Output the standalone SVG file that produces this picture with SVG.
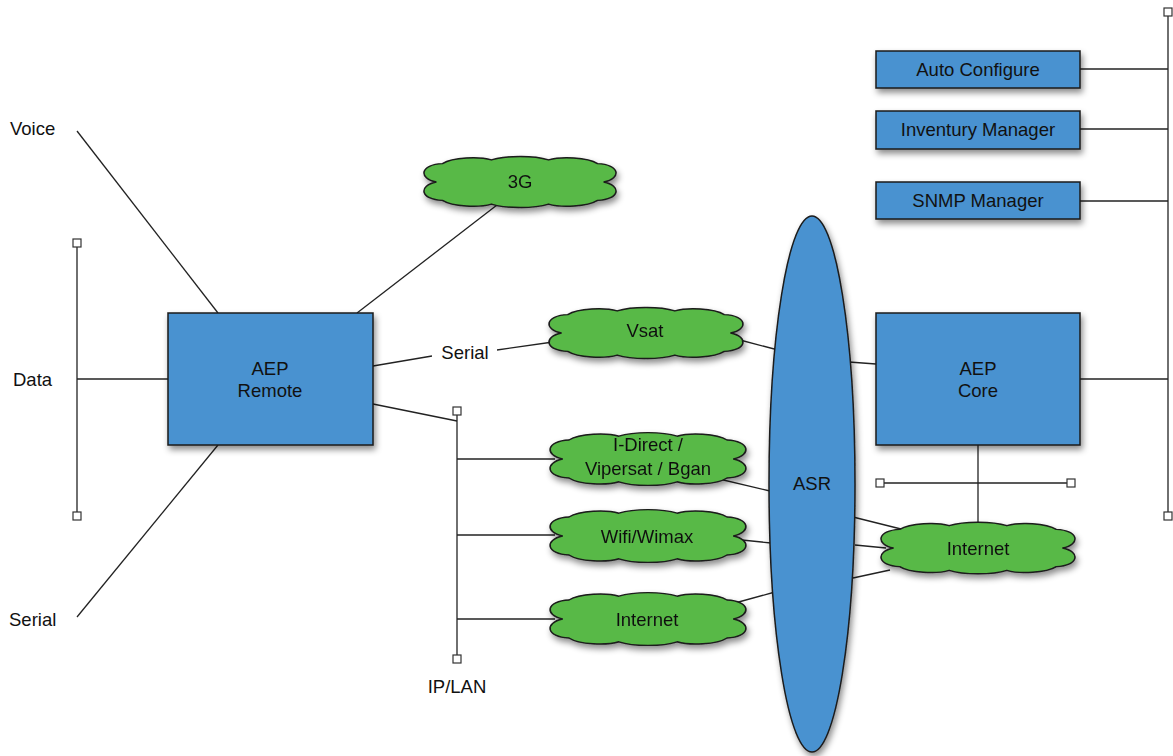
<svg xmlns="http://www.w3.org/2000/svg" width="1173" height="756" viewBox="0 0 1173 756">
<defs>
<filter id="sh" x="-20%" y="-20%" width="140%" height="150%">
<feDropShadow dx="2" dy="4" stdDeviation="3" flood-color="#000" flood-opacity="0.45"/>
</filter>
<path id="cloud" d="M -82,0 C -100,-4 -98,-19 -76,-20 C -66,-27 -40,-28 -28,-24 C -14,-29 14,-29 28,-24 C 40,-28 66,-27 76,-20 C 98,-19 100,-4 82,0 C 100,4 98,19 76,20 C 66,27 40,28 28,24 C 14,29 -14,29 -28,24 C -40,28 -66,27 -76,20 C -98,19 -100,4 -82,0 Z"/>
<style>
.box{fill:#4A92D0;stroke:#1a1a1a;stroke-width:1.5;filter:url(#sh)}
.cl use{fill:#58B947;stroke:#1a1a1a;stroke-width:1.5;vector-effect:non-scaling-stroke}
.cl{filter:url(#sh)}
.ln{stroke:#222;stroke-width:1.3;fill:none}
.sq{fill:#fff;stroke:#333;stroke-width:1.2}
text{font-family:"Liberation Sans",Arial,sans-serif;font-size:18.5px;fill:#111}
.c{text-anchor:middle}
</style>
</defs>
<rect width="1173" height="756" fill="#fff"/>
<g id="connectors">
<line class="ln" x1="77" y1="243" x2="77" y2="516"/>
<line class="ln" x1="77" y1="379" x2="168" y2="379"/>
<line class="ln" x1="77" y1="131" x2="218" y2="313"/>
<line class="ln" x1="77" y1="617" x2="218" y2="445"/>
<line class="ln" x1="357" y1="313" x2="497" y2="205"/>
<line class="ln" x1="373" y1="366" x2="432" y2="356"/>
<line class="ln" x1="497" y1="350" x2="553" y2="342"/>
<line class="ln" x1="457" y1="411" x2="457" y2="659"/>
<line class="ln" x1="373" y1="404" x2="457" y2="421"/>
<line class="ln" x1="457" y1="459" x2="555" y2="459"/>
<line class="ln" x1="457" y1="535" x2="555" y2="535"/>
<line class="ln" x1="457" y1="619" x2="555" y2="619"/>
<line class="ln" x1="740" y1="340" x2="778" y2="350"/>
<line class="ln" x1="849" y1="362" x2="876" y2="364"/>
<line class="ln" x1="715" y1="478" x2="770" y2="491"/>
<line class="ln" x1="742" y1="540" x2="771" y2="543"/>
<line class="ln" x1="735" y1="603" x2="775" y2="592"/>
<line class="ln" x1="853" y1="517" x2="905" y2="530"/>
<line class="ln" x1="855" y1="545" x2="886" y2="548"/>
<line class="ln" x1="853" y1="578" x2="890" y2="570"/>
<line class="ln" x1="978" y1="445" x2="978" y2="523"/>
<line class="ln" x1="880" y1="483" x2="1071" y2="483"/>
<line class="ln" x1="1168" y1="12" x2="1168" y2="516"/>
<line class="ln" x1="1080" y1="69" x2="1168" y2="69"/>
<line class="ln" x1="1080" y1="129" x2="1168" y2="129"/>
<line class="ln" x1="1080" y1="201" x2="1168" y2="201"/>
<line class="ln" x1="1080" y1="379" x2="1168" y2="379"/>
<rect class="sq" x="73" y="239" width="8" height="8"/>
<rect class="sq" x="73" y="512" width="8" height="8"/>
<rect class="sq" x="453" y="407" width="8" height="8"/>
<rect class="sq" x="453" y="655" width="8" height="8"/>
<rect class="sq" x="876" y="479" width="8" height="8"/>
<rect class="sq" x="1067" y="479" width="8" height="8"/>
<rect class="sq" x="1164" y="8" width="8" height="8"/>
<rect class="sq" x="1164" y="512" width="8" height="8"/>
</g>
<g id="labels">
<text x="10" y="135">Voice</text>
<text x="13" y="386">Data</text>
<text x="9" y="626">Serial</text>
<text class="c" x="465" y="359">Serial</text>
<text class="c" x="457" y="693">IP/LAN</text>
</g>
<g id="asr">
<ellipse cx="812" cy="484" rx="43" ry="268" class="box"/>
<text class="c" x="812" y="490">ASR</text>
</g>
<g id="aep-remote">
<rect class="box" x="168" y="313" width="205" height="132"/>
<text class="c" x="270" y="375">AEP</text>
<text class="c" x="270" y="397">Remote</text>
</g>
<g id="aep-core">
<rect class="box" x="876" y="313" width="204" height="132"/>
<text class="c" x="978" y="375">AEP</text>
<text class="c" x="978" y="397">Core</text>
</g>
<g id="auto-configure">
<rect class="box" x="876" y="51" width="204" height="37"/>
<text class="c" x="978" y="76">Auto Configure</text>
</g>
<g id="inventury-manager">
<rect class="box" x="876" y="111" width="204" height="38"/>
<text class="c" x="978" y="136">Inventury Manager</text>
</g>
<g id="snmp-manager">
<rect class="box" x="876" y="182" width="204" height="37"/>
<text class="c" x="978" y="207">SNMP Manager</text>
</g>
<g id="cloud-3g" class="cl">
<use href="#cloud" transform="translate(520,182) scale(1.02,0.92)"/>
<text class="c" x="520" y="188">3G</text>
</g>
<g id="cloud-vsat" class="cl">
<use href="#cloud" transform="translate(646,333) scale(1.03,0.92)"/>
<text class="c" x="645" y="337">Vsat</text>
</g>
<g id="cloud-idirect" class="cl">
<use href="#cloud" transform="translate(648,459) scale(1.04,0.95)"/>
<text class="c" x="648" y="451">I-Direct /</text>
<text class="c" x="648" y="475">Vipersat / Bgan</text>
</g>
<g id="cloud-wifi" class="cl">
<use href="#cloud" transform="translate(648,536) scale(1.04,0.95)"/>
<text class="c" x="647" y="543">Wifi/Wimax</text>
</g>
<g id="cloud-internet-left" class="cl">
<use href="#cloud" transform="translate(648,619) scale(1.04,0.95)"/>
<text class="c" x="647" y="626">Internet</text>
</g>
<g id="cloud-internet-right" class="cl">
<use href="#cloud" transform="translate(978,548) scale(1.03,0.93)"/>
<text class="c" x="978" y="555">Internet</text>
</g>
</svg>
